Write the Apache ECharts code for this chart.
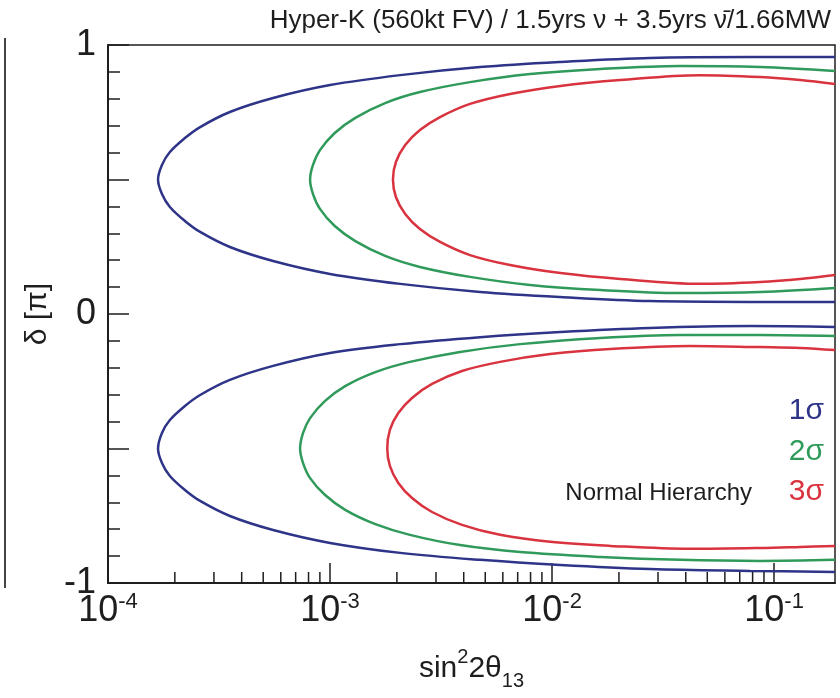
<!DOCTYPE html>
<html>
<head>
<meta charset="utf-8">
<script src="https://cdn.jsdelivr.net/npm/echarts@6/dist/echarts.min.js"></script>
<style>
  html, body { margin: 0; padding: 0; background: #ffffff; }
  #chart { width: 840px; height: 698px; }
</style>
</head>
<body>
<div id="chart"></div>
<script>
// Allowed-region contours in the (sin^2 2theta13, delta_CP) plane.
// Each contour is split into the delta > 0 lobe and the delta < 0 lobe;
// points run from the right edge along the outer branch, round the tip,
// and back to the right edge along the inner branch.  [sin^2 2theta13, delta/pi]

const blueUpper = [
  [0.188, 0.955], [7.80e-2, 0.955], [2.76e-2, 0.952], [1.09e-2, 0.937], [4.74e-3, 0.918],
  [2.07e-3, 0.888], [1.00e-3, 0.851], [5.54e-4, 0.803], [3.54e-4, 0.751], [2.60e-4, 0.695],
  [2.22e-4, 0.654], [1.90e-4, 0.602], [1.75e-4, 0.554], [1.68e-4, 0.500],
  [1.75e-4, 0.446], [1.90e-4, 0.398], [2.22e-4, 0.346], [2.60e-4, 0.305], [3.54e-4, 0.249],
  [5.54e-4, 0.197], [1.00e-3, 0.149], [2.07e-3, 0.112], [4.74e-3, 0.082], [1.09e-2, 0.063],
  [2.76e-2, 0.048], [7.80e-2, 0.045], [0.188, 0.045]
];

const greenUpper = [
  [0.188, 0.903], [8.65e-2, 0.918], [3.77e-2, 0.922], [1.65e-2, 0.911], [7.96e-3, 0.892],
  [4.27e-3, 0.862], [2.54e-3, 0.825], [1.77e-3, 0.784], [1.30e-3, 0.729], [1.05e-3, 0.673],
  [9.02e-4, 0.610], [8.38e-4, 0.554], [8.13e-4, 0.500],
  [8.38e-4, 0.446], [9.02e-4, 0.390], [1.05e-3, 0.327], [1.30e-3, 0.271], [1.77e-3, 0.216],
  [2.54e-3, 0.175], [4.27e-3, 0.138], [7.96e-3, 0.108], [1.65e-2, 0.089], [3.77e-2, 0.078],
  [8.65e-2, 0.082], [0.188, 0.097]
];

const redUpper = [
  [0.188, 0.855], [0.131, 0.870], [8.65e-2, 0.881], [4.64e-2, 0.888], [2.03e-2, 0.870],
  [1.09e-2, 0.848], [6.47e-3, 0.818], [4.27e-3, 0.781], [3.13e-3, 0.732], [2.54e-3, 0.684],
  [2.18e-3, 0.628], [1.98e-3, 0.565], [1.92e-3, 0.500],
  [1.98e-3, 0.435], [2.18e-3, 0.372], [2.54e-3, 0.316], [3.13e-3, 0.268], [4.27e-3, 0.219],
  [6.47e-3, 0.182], [1.09e-2, 0.152], [2.03e-2, 0.130], [4.64e-2, 0.112], [8.65e-2, 0.119],
  [0.131, 0.130], [0.188, 0.145]
];

const blueLower = [
  [0.188, -0.048], [7.80e-2, -0.045], [2.76e-2, -0.052], [1.09e-2, -0.067], [4.74e-3, -0.086],
  [2.07e-3, -0.112], [1.00e-3, -0.145], [5.54e-4, -0.193], [3.54e-4, -0.245], [2.60e-4, -0.301],
  [2.22e-4, -0.342], [1.90e-4, -0.394], [1.75e-4, -0.442], [1.68e-4, -0.500],
  [1.75e-4, -0.554], [1.90e-4, -0.602], [2.22e-4, -0.654], [2.60e-4, -0.695], [3.54e-4, -0.751],
  [5.54e-4, -0.803], [1.00e-3, -0.851], [2.07e-3, -0.888], [4.74e-3, -0.914], [1.09e-2, -0.933],
  [2.76e-2, -0.948], [7.80e-2, -0.955], [0.188, -0.959]
];

const greenLower = [
  [0.188, -0.082], [8.65e-2, -0.078], [3.77e-2, -0.078], [1.65e-2, -0.089], [7.18e-3, -0.112],
  [3.85e-3, -0.141], [2.29e-3, -0.178], [1.60e-3, -0.216], [1.17e-3, -0.268], [9.50e-4, -0.323],
  [8.13e-4, -0.387], [7.56e-4, -0.442], [7.33e-4, -0.500],
  [7.56e-4, -0.554], [8.13e-4, -0.610], [9.50e-4, -0.673], [1.17e-3, -0.728], [1.60e-3, -0.781],
  [2.29e-3, -0.821], [3.85e-3, -0.859], [7.18e-3, -0.885], [1.65e-2, -0.903], [3.77e-2, -0.914],
  [8.65e-2, -0.918], [0.188, -0.914]
];

const redLower = [
  [0.188, -0.134], [0.131, -0.126], [8.65e-2, -0.123], [4.18e-2, -0.119], [1.83e-2, -0.130],
  [9.80e-3, -0.149], [5.83e-3, -0.178], [3.93e-3, -0.212], [2.88e-3, -0.260], [2.34e-3, -0.312],
  [2.03e-3, -0.368], [1.86e-3, -0.431], [1.81e-3, -0.500],
  [1.86e-3, -0.565], [2.03e-3, -0.628], [2.34e-3, -0.684], [2.88e-3, -0.736], [3.93e-3, -0.784],
  [5.83e-3, -0.821], [9.80e-3, -0.847], [1.83e-2, -0.862], [4.18e-2, -0.873], [8.65e-2, -0.870],
  [0.131, -0.866], [0.188, -0.862]
];

// Axis ticks
const xMin = 1e-4;
const xMax = 0.188;
const xMinorTicks = [
  2e-4, 3e-4, 4e-4, 5e-4, 6e-4, 7e-4, 8e-4, 9e-4,
  2e-3, 3e-3, 4e-3, 5e-3, 6e-3, 7e-3, 8e-3, 9e-3,
  2e-2, 3e-2, 4e-2, 5e-2, 6e-2, 7e-2, 8e-2, 9e-2
];
const yTickLabels = { '-1': '-1', '0': '0', '1': '1' };

const titleText = 'Hyper-K (560kt FV) / 1.5yrs \u03bd + 3.5yrs \u03bd\u0304/1.66MW';
const sigmaLabels = ['1\u03c3', '2\u03c3', '3\u03c3'];
const hierarchyLabel = 'Normal Hierarchy';

const COL_BLUE = '#2e3488';
const COL_GREEN = '#2f9a5a';
const COL_RED = '#d8333f';
const INK = '#1e1e1e';
const FONT = '"Liberation Sans", Arial, sans-serif';

const chart = echarts.init(document.getElementById('chart'), null, { renderer: 'canvas' });

function contour(data, color) {
  return {
    type: 'line',
    data: data,
    showSymbol: false,
    symbol: 'none',
    smooth: 0.35,
    clip: true,
    lineStyle: { color: color, width: 2.5 },
    silent: true,
    z: 3
  };
}

const option = {
  backgroundColor: '#ffffff',
  animation: false,
  textStyle: { fontFamily: FONT },
  title: {
    text: titleText,
    right: 4,
    top: 3,
    textStyle: { fontFamily: FONT, fontSize: 26, fontWeight: 'normal', color: INK }
  },
  grid: {
    left: 108, top: 45, right: 5, bottom: 115,
    show: true, borderColor: INK, borderWidth: 1.5, backgroundColor: 'transparent'
  },
  xAxis: {
    type: 'log',
    logBase: 10,
    min: xMin,
    max: xMax,
    axisLine: { onZero: false, lineStyle: { color: INK, width: 2 } },
    axisTick: { inside: true, length: 20, lineStyle: { color: INK, width: 1.5 } },
    splitLine: { show: false },
    axisLabel: {
      showMaxLabel: false,
      margin: 8,
      color: INK,
      formatter: function (v) {
        const e = Math.round(Math.log10(v));
        return '{b|10}{s|' + e + '}';
      },
      rich: {
        b: { fontFamily: FONT, fontSize: 36, color: INK, lineHeight: 40 },
        s: { fontFamily: FONT, fontSize: 22, color: INK, verticalAlign: 'top', lineHeight: 40 }
      }
    },
    name: '{a|sin}{s|2}{a|2\u03b8}{u|13}',
    nameLocation: 'middle',
    nameGap: 64,
    nameTextStyle: {
      rich: {
        a: { fontFamily: FONT, fontSize: 30, color: INK, lineHeight: 44 },
        s: { fontFamily: FONT, fontSize: 20, color: INK, verticalAlign: 'top', lineHeight: 44 },
        u: { fontFamily: FONT, fontSize: 20, color: INK, verticalAlign: 'bottom', lineHeight: 44 }
      }
    }
  },
  yAxis: {
    type: 'value',
    min: -1,
    max: 1,
    interval: 0.5,
    axisLine: { onZero: false, lineStyle: { color: INK, width: 2 } },
    axisTick: { inside: true, length: 21, lineStyle: { color: INK, width: 1.5 } },
    minorTick: { show: true, splitNumber: 5, length: 12, lineStyle: { color: INK, width: 1.5 } },
    splitLine: { show: false },
    axisLabel: {
      margin: 12,
      color: INK,
      fontFamily: FONT,
      fontSize: 36,
      formatter: function (v) {
        const k = String(Math.round(v * 2) / 2);
        return yTickLabels[k] !== undefined ? yTickLabels[k] : '';
      }
    },
    name: '\u03b4 [\u03c0]',
    nameLocation: 'middle',
    nameRotate: 90,
    nameGap: 54,
    nameTextStyle: { fontFamily: FONT, fontSize: 30, color: INK }
  },
  series: [
    contour(blueUpper, COL_BLUE),
    contour(greenUpper, COL_GREEN),
    contour(redUpper, COL_RED),
    contour(blueLower, COL_BLUE),
    contour(greenLower, COL_GREEN),
    contour(redLower, COL_RED),
    {
      // minor ticks of the logarithmic axis (2..9 x 10^n)
      type: 'custom',
      data: xMinorTicks.map(function (v) { return [v, -1]; }),
      silent: true,
      z: 4,
      renderItem: function (params, api) {
        const p = api.coord([api.value(0), api.value(1)]);
        return {
          type: 'line',
          shape: { x1: p[0], y1: p[1], x2: p[0], y2: p[1] - 11 },
          style: { stroke: INK, lineWidth: 1.5 }
        };
      }
    }
  ],
  graphic: [
    // frame edge of the neighbouring panel
    { type: 'line', shape: { x1: 5, y1: 38, x2: 5, y2: 588 }, style: { stroke: '#444', lineWidth: 2 }, silent: true },
    { type: 'text', right: 16, top: 396, style: { text: sigmaLabels[0], fill: COL_BLUE, font: '30px ' + FONT } },
    { type: 'text', right: 16, top: 437, style: { text: sigmaLabels[1], fill: COL_GREEN, font: '30px ' + FONT } },
    { type: 'text', right: 16, top: 477, style: { text: sigmaLabels[2], fill: COL_RED, font: '30px ' + FONT } },
    { type: 'text', right: 88, top: 481, style: { text: hierarchyLabel, fill: INK, font: '24px ' + FONT } }
  ]
};

chart.setOption(option);
</script>
</body>
</html>
